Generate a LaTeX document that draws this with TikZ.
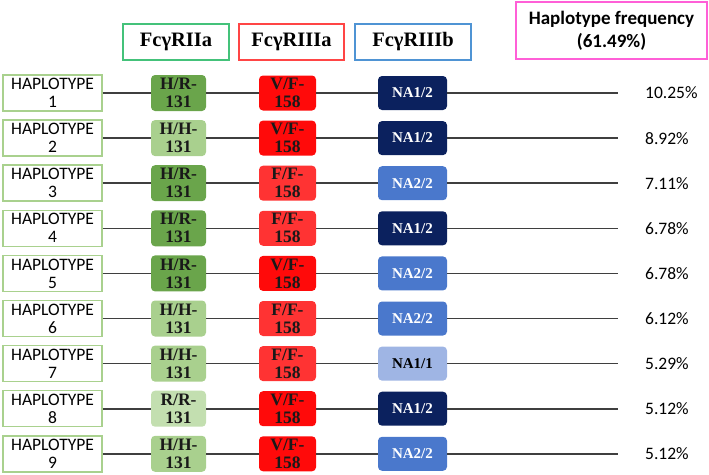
\documentclass[tikz,border=0pt]{standalone}
\usepackage{fontspec}
\setmainfont{Liberation Serif}
\newfontfamily\calfont{Carlito}
\definecolor{hapgreen}{HTML}{A9D18E}
\definecolor{gdark}{HTML}{6AA54B}
\definecolor{glight}{HTML}{A9D08E}
\definecolor{glighter}{HTML}{C3DFB0}
\definecolor{rvf}{HTML}{FF0A0A}
\definecolor{rff}{HTML}{FF3333}
\definecolor{navy}{HTML}{0B215E}
\definecolor{nblue}{HTML}{4A78CC}
\definecolor{nlight}{HTML}{9FB5E4}
\definecolor{linegray}{HTML}{3F3F3F}
\definecolor{hdrgreen}{HTML}{44C27A}
\definecolor{hdrred}{HTML}{FF4545}
\definecolor{hdrblue}{HTML}{4F94D4}
\definecolor{hdrpink}{HTML}{FF5FD7}
\begin{document}
\begin{tikzpicture}[x=1pt,y=-1pt,
  hap/.style={draw=hapgreen,line width=1.5pt,fill=white,minimum width=99pt,minimum height=36pt,inner sep=0pt,align=center,font=\calfont\fontsize{17.5}{18}\selectfont},
  gbox/.style={rounded corners=4pt,minimum width=55pt,minimum height=36pt,inner sep=0pt,align=center,text=black!90,font=\bfseries\fontsize{17.5}{18}\selectfont},
  rbox/.style={rounded corners=4pt,minimum width=57pt,minimum height=35pt,inner sep=0pt,align=center,text=black!90,font=\bfseries\fontsize{17.5}{18}\selectfont},
  nbox/.style={rounded corners=4pt,minimum width=69pt,minimum height=34pt,inner sep=0pt,align=center,font=\bfseries\fontsize{15}{16}\selectfont},
  hdr/.style={draw,line width=1.5pt,fill=white,minimum height=36pt,inner sep=0pt,align=center,font=\bfseries\fontsize{20.5}{22}\selectfont},
  pct/.style={anchor=west,inner sep=0pt,font=\calfont\fontsize{17.5}{18}\selectfont},
  link/.style={draw=linegray,line width=1.6pt}]
\useasboundingbox (0,0) rectangle (709,474);
% headers
\node[hdr,draw=hdrgreen,minimum width=106pt] (h1) at (176,42) {FcγRIIa};
\node[hdr,draw=hdrred,minimum width=105pt] (h2) at (291.5,42) {FcγRIIIa};
\node[hdr,draw=hdrblue,minimum width=116pt] (h3) at (413,42) {FcγRIIIb};
\node[hdr,draw=hdrpink,minimum width=191pt,minimum height=57pt,font=\calfont\bfseries\fontsize{19}{23}\selectfont] (h4) at (611.5,30.5) {Haplotype frequency\\(61.49\%)};
% rows
\foreach \i/\gt/\gc/\rt/\rc/\nt/\nc/\ntc/\p in {
 1/H\slash R-/gdark/V\slash F-/rvf/NA1\slash 2/navy/white/10.25\%,
 2/H\slash H-/glight/V\slash F-/rvf/NA1\slash 2/navy/white/8.92\%,
 3/H\slash R-/gdark/F\slash F-/rff/NA2\slash 2/nblue/white/7.11\%,
 4/H\slash R-/gdark/F\slash F-/rff/NA1\slash 2/navy/white/6.78\%,
 5/H\slash R-/gdark/V\slash F-/rvf/NA2\slash 2/nblue/white/6.78\%,
 6/H\slash H-/glight/F\slash F-/rff/NA2\slash 2/nblue/white/6.12\%,
 7/H\slash H-/glight/F\slash F-/rff/NA1\slash 1/nlight/black/5.29\%,
 8/R\slash R-/glighter/V\slash F-/rvf/NA1\slash 2/navy/white/5.12\%,
 9/H\slash H-/glight/V\slash F-/rvf/NA2\slash 2/nblue/white/5.12\%}{
  \pgfmathsetmacro{\yy}{93+45.1*(\i-1)}
  \node[hap] (hap\i) at (52.5,\yy) {HAPLOTYPE\\\i};
  \node[gbox,fill=\gc] (g\i) at (178.5,\yy) {\gt\\131};
  \node[rbox,fill=\rc] (r\i) at (287.5,\yy) {\rt\\158};
  \node[nbox,fill=\nc,text=\ntc] (n\i) at (412.5,\yy) {\nt};
  \coordinate (e\i) at (618,\yy);
  \node[pct] (p\i) at (645,\yy) {\p};
  \draw[link] (hap\i.east) -- (g\i.west);
  \draw[link] (g\i.east) -- (r\i.west);
  \draw[link] (r\i.east) -- (n\i.west);
  \draw[link] (n\i.east) -- (e\i);
}
\end{tikzpicture}
\end{document}
